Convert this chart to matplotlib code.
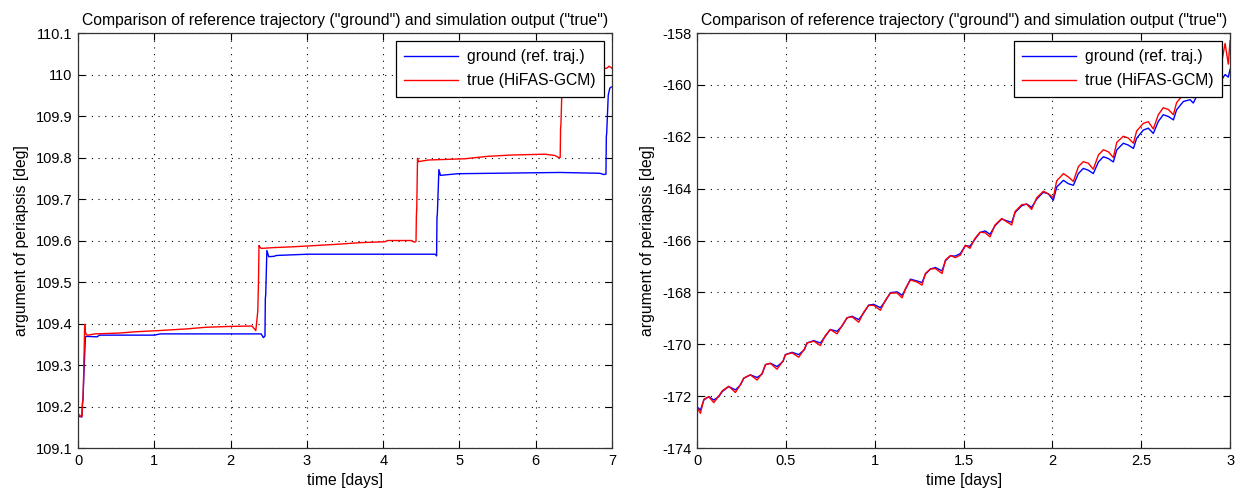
import matplotlib
matplotlib.use("Agg")
import matplotlib.pyplot as plt
from matplotlib.ticker import FuncFormatter

plt.rcParams['font.family'] = ['Liberation Sans Narrow', 'Liberation Sans', 'DejaVu Sans']
plt.rcParams['font.size'] = 10.5

# left panel: step-like drift over 7 days
ground_t = [0.016, 0.050, 0.057, 0.065, 0.078, 0.096, 0.110, 0.250, 0.280, 1.00,
            1.08, 2.40, 2.43, 2.45, 2.455, 2.46, 2.475, 2.50, 2.57, 2.60,
            3.01, 4.68, 4.70, 4.705, 4.71, 4.73, 4.75, 4.98, 6.32, 6.84,
            6.89, 6.92, 6.925, 6.93, 6.95, 6.97, 6.99]
ground_v = [109.176, 109.175, 109.204, 109.22, 109.285, 109.368, 109.369, 109.368, 109.372, 109.372,
            109.375, 109.375, 109.366, 109.37, 109.46, 109.47, 109.576, 109.561, 109.562, 109.564,
            109.567, 109.567, 109.563, 109.655, 109.665, 109.771, 109.757, 109.761, 109.764, 109.762,
            109.759, 109.76, 109.85, 109.86, 109.95, 109.967, 109.97]

true_t = [0.016, 0.045, 0.052, 0.058, 0.065, 0.075, 0.087, 0.095, 0.109, 0.130,
          0.22, 0.54, 0.74, 1.06, 1.42, 1.68, 1.99, 2.28, 2.33, 2.356,
          2.365, 2.372, 2.38, 2.40, 2.57, 2.83, 3.12, 3.40, 3.71, 4.02,
          4.06, 4.37, 4.41, 4.43, 4.435, 4.44, 4.45, 4.46, 4.59, 5.07,
          5.38, 5.68, 6.12, 6.25, 6.30, 6.32, 6.325, 6.33, 6.35, 6.40,
          6.93, 6.96, 7.0]
true_v = [109.18, 109.175, 109.178, 109.21, 109.215, 109.29, 109.398, 109.38, 109.373, 109.372,
          109.375, 109.377, 109.38, 109.383, 109.387, 109.391, 109.393, 109.394, 109.383, 109.43,
          109.50, 109.588, 109.585, 109.581, 109.583, 109.585, 109.588, 109.591, 109.595, 109.597,
          109.60, 109.60, 109.596, 109.598, 109.66, 109.68, 109.798, 109.79, 109.794, 109.797,
          109.803, 109.806, 109.808, 109.805, 109.80, 109.80, 109.87, 109.88, 110.01, 110.012,
          110.015, 110.02, 110.015]

# right panel: 3 days, shared time samples
t2 = [0.000, 0.019, 0.038, 0.066, 0.094, 0.122, 0.141, 0.178, 0.216, 0.244,
      0.263, 0.300, 0.338, 0.366, 0.385, 0.413, 0.450, 0.484, 0.497, 0.535,
      0.572, 0.604, 0.619, 0.657, 0.694, 0.722, 0.750, 0.788, 0.816, 0.844,
      0.872, 0.910, 0.938, 0.966, 0.994, 1.032, 1.060, 1.088, 1.126, 1.154,
      1.173, 1.201, 1.238, 1.266, 1.285, 1.313, 1.341, 1.379, 1.398, 1.426,
      1.454, 1.482, 1.510, 1.536, 1.564, 1.593, 1.621, 1.649, 1.677, 1.715,
      1.743, 1.771, 1.790, 1.827, 1.855, 1.883, 1.912, 1.949, 1.977, 2.005,
      2.024, 2.062, 2.090, 2.118, 2.146, 2.174, 2.202, 2.230, 2.259, 2.287,
      2.315, 2.343, 2.362, 2.399, 2.427, 2.456, 2.474, 2.512, 2.540, 2.568,
      2.596, 2.624, 2.653, 2.681, 2.699, 2.737, 2.775, 2.793, 2.821, 2.859,
      2.887, 2.915, 2.943, 2.972, 2.990, 3.000]
ground2 = [-172.41, -172.54, -172.15, -172.02, -172.15, -172.02, -171.83, -171.63, -171.76, -171.57,
           -171.31, -171.18, -171.28, -171.15, -170.79, -170.73, -170.86, -170.66, -170.40, -170.31,
           -170.40, -170.21, -169.95, -169.86, -169.95, -169.69, -169.43, -169.50, -169.30, -168.98,
           -168.92, -169.05, -168.79, -168.49, -168.46, -168.59, -168.33, -168.01, -167.98, -168.11,
           -167.88, -167.49, -167.56, -167.62, -167.30, -167.10, -167.04, -167.17, -166.78, -166.59,
           -166.60, -166.50, -166.20, -166.22, -165.95, -165.69, -165.63, -165.76, -165.43, -165.17,
           -165.24, -165.30, -164.92, -164.66, -164.59, -164.72, -164.40, -164.14, -164.20, -164.45,
           -163.94, -163.68, -163.81, -163.87, -163.42, -163.22, -163.29, -163.42, -162.97, -162.77,
           -162.84, -162.97, -162.51, -162.25, -162.32, -162.45, -162.06, -161.74, -161.67, -161.87,
           -161.41, -161.15, -161.22, -161.35, -160.96, -160.64, -160.57, -160.70, -160.31, -160.12,
           -160.06, -160.12, -159.90, -159.60, -159.70, -159.40]
true2 = [-172.45, -172.66, -172.12, -172.02, -172.25, -172.00, -171.80, -171.62, -171.86, -171.55,
         -171.30, -171.18, -171.38, -171.12, -170.78, -170.74, -170.96, -170.64, -170.40, -170.33,
         -170.50, -170.18, -169.95, -169.88, -170.05, -169.66, -169.43, -169.60, -169.28, -168.98,
         -168.94, -169.15, -168.76, -168.50, -168.50, -168.69, -168.30, -168.03, -168.02, -168.21,
         -167.85, -167.52, -167.60, -167.72, -167.27, -167.10, -167.08, -167.27, -166.75, -166.58,
         -166.66, -166.56, -166.18, -166.30, -165.92, -165.68, -165.70, -165.86, -165.40, -165.15,
         -165.28, -165.40, -164.88, -164.62, -164.60, -164.80, -164.35, -164.10, -164.20, -164.35,
         -163.70, -163.42, -163.55, -163.72, -163.15, -162.96, -163.02, -163.25, -162.70, -162.50,
         -162.58, -162.80, -162.22, -161.98, -162.05, -162.25, -161.78, -161.48, -161.42, -161.70,
         -161.15, -160.88, -160.95, -161.15, -160.68, -160.38, -160.30, -160.50, -160.05, -159.85,
         -159.78, -159.90, -159.50, -158.40, -159.20, -158.30]

title = 'Comparison of reference trajectory ("ground") and simulation output ("true")'
labels = ['ground (ref. traj.)', 'true (HiFAS-GCM)']

fig = plt.figure(figsize=(12.41, 4.95), dpi=100)
ax1 = fig.add_axes([0.0629, 0.0949, 0.4303, 0.8384])
ax2 = fig.add_axes([0.5617, 0.0949, 0.4295, 0.8384])

fmt = FuncFormatter(lambda v, p: f'{v:g}')


def style(ax):
    ax.grid(True, color='k', linestyle=(0, (1, 5)), linewidth=0.8)
    ax.tick_params(direction='in', top=True, right=True, length=5, width=0.8, pad=4)
    for s in ax.spines.values():
        s.set_color('#333333')
        s.set_linewidth(0.9)
    ax.xaxis.set_major_formatter(fmt)
    ax.yaxis.set_major_formatter(fmt)
    ax.set_xlabel('time [days]', fontsize=11.3, labelpad=4)
    ax.set_ylabel('argument of periapsis [deg]', fontsize=11.3, labelpad=5)
    ax.set_title(title, fontsize=11.3, pad=6)
    leg = ax.legend(loc='upper right', fancybox=False, framealpha=1, edgecolor='k',
                    fontsize=11.3, handlelength=3.4, handletextpad=0.6,
                    borderaxespad=0.5, borderpad=0.55, labelspacing=0.55)
    leg.get_frame().set_linewidth(0.9)


ax1.plot(ground_t, ground_v, color='#0000ff', lw=1.0, label=labels[0])
ax1.plot(true_t, true_v, color='#ff0000', lw=1.0, label=labels[1])
ax1.set_xlim(0, 7)
ax1.set_ylim(109.1, 110.1)
ax1.set_xticks(range(0, 8))
ax1.set_yticks([109.1 + 0.1 * i for i in range(11)])
style(ax1)

ax2.plot(t2, ground2, color='#0000ff', lw=1.0, label=labels[0])
ax2.plot(t2, true2, color='#ff0000', lw=1.0, label=labels[1])
ax2.set_xlim(0, 3)
ax2.set_ylim(-174, -158)
ax2.set_xticks([0, 0.5, 1, 1.5, 2, 2.5, 3])
ax2.set_yticks(range(-174, -157, 2))
style(ax2)

fig.savefig('out.png', dpi=100)
